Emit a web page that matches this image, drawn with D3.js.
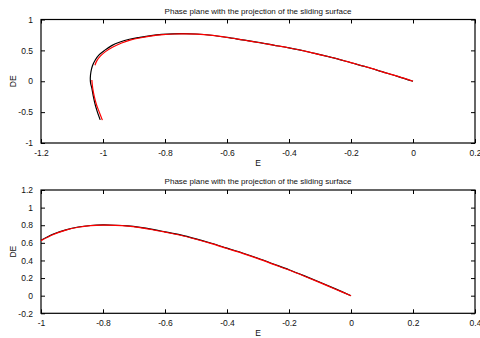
<!DOCTYPE html>
<html>
<head>
<meta charset="utf-8">
<script src="https://cdn.jsdelivr.net/npm/d3@7"></script>
<style>
  body { margin: 0; background: #fff; }
  svg { display: block; font-family: "Liberation Sans", Arial, sans-serif; }
  .tick text { fill: #111; }
</style>
</head>
<body>
<div id="viz"></div>
<script>
// top panel: black trajectory
const topBlackE = [-1.009, -1.018, -1.025, -1.031, -1.036, -1.04, -1.041, -1.039, -1.034, -1.025, -1.012, -0.995, -0.972, -0.945, -0.915, -0.881, -0.845, -0.81, -0.775, -0.74, -0.7, -0.65, -0.6, -0.55, -0.5, -0.45, -0.4, -0.35, -0.3, -0.25, -0.2, -0.15, -0.1, -0.05, 0];
const topBlackDE = [-0.626, -0.5, -0.383, -0.25, -0.113, -0.03, 0.05, 0.15, 0.25, 0.345, 0.43, 0.5, 0.577, 0.635, 0.68, 0.712, 0.74, 0.758, 0.768, 0.77, 0.765, 0.745, 0.71, 0.67, 0.63, 0.585, 0.54, 0.49, 0.43, 0.37, 0.30, 0.23, 0.155, 0.08, 0];

// top panel: red projection, two pieces
const topRedLowE = [-1.036, -1.033, -1.028, -1.021, -1.012, -1.002];
const topRedLowDE = [0.02, -0.12, -0.25, -0.38, -0.5, -0.63];
const topRedHighE = [-1.026, -1.02, -1.008, -0.992, -0.968, -0.94, -0.91, -0.877, -0.842, -0.806, -0.771, -0.736, -0.697, -0.648, -0.598, -0.548, -0.498, -0.448, -0.398, -0.348, -0.298, -0.248, -0.198, -0.148, -0.098, -0.048, 0];
const topRedHighDE = [0.26, 0.33, 0.41, 0.48, 0.555, 0.62, 0.67, 0.705, 0.735, 0.755, 0.765, 0.766, 0.762, 0.742, 0.708, 0.668, 0.628, 0.583, 0.538, 0.488, 0.428, 0.368, 0.298, 0.228, 0.153, 0.078, 0];

// bottom panel
const botE = [-1, -0.96, -0.92, -0.88, -0.84, -0.8, -0.76, -0.72, -0.68, -0.64, -0.6, -0.55, -0.5, -0.45, -0.4, -0.35, -0.3, -0.25, -0.2, -0.15, -0.1, -0.05, 0];
const botBlackDE = [0.63, 0.7, 0.748, 0.78, 0.797, 0.803, 0.8, 0.792, 0.775, 0.752, 0.725, 0.69, 0.645, 0.595, 0.54, 0.485, 0.425, 0.36, 0.295, 0.225, 0.152, 0.077, 0];
const botRedDE = [0.625, 0.695, 0.745, 0.777, 0.795, 0.801, 0.799, 0.79, 0.772, 0.749, 0.722, 0.686, 0.641, 0.591, 0.536, 0.481, 0.421, 0.356, 0.291, 0.221, 0.148, 0.073, 0];

const topXTicks = [-1.2, -1, -0.8, -0.6, -0.4, -0.2, 0, 0.2];
const topYTicks = [-1, -0.5, 0, 0.5, 1];
const botXTicks = [-1, -0.8, -0.6, -0.4, -0.2, 0, 0.2, 0.4];
const botYTicks = [-0.2, 0, 0.2, 0.4, 0.6, 0.8, 1, 1.2];

const title = "Phase plane with the projection of the sliding surface";

const svg = d3.select("#viz").append("svg")
    .attr("width", 480)
    .attr("height", 338);

const zip = (xs, ys) => xs.map((v, i) => [v, ys[i]]);

// draw one panel with box, inward ticks on all four sides
function panel(opts) {
    const x = d3.scaleLinear().domain(opts.xDomain).range([41, 475]);
    const y = d3.scaleLinear().domain(opts.yDomain).range([opts.bottom, opts.top]);
    const g = svg.append("g");
    const tl = 4;
    const fmt = d => String(d);

    // bottom axis
    g.append("g")
        .attr("transform", `translate(0,${opts.bottom})`)
        .call(d3.axisBottom(x).tickValues(opts.xTicks).tickSize(-tl).tickPadding(7).tickFormat(fmt))
        .call(a => a.select(".domain").remove());
    // top axis (ticks only)
    g.append("g")
        .attr("transform", `translate(0,${opts.top})`)
        .call(d3.axisTop(x).tickValues(opts.xTicks).tickSize(-tl).tickFormat(""))
        .call(a => a.select(".domain").remove());
    // left axis
    g.append("g")
        .attr("transform", `translate(41,0)`)
        .call(d3.axisLeft(y).tickValues(opts.yTicks).tickSize(-tl).tickPadding(8).tickFormat(fmt))
        .call(a => a.select(".domain").remove());
    // right axis (ticks only)
    g.append("g")
        .attr("transform", `translate(475,0)`)
        .call(d3.axisRight(y).tickValues(opts.yTicks).tickSize(-tl).tickFormat(""))
        .call(a => a.select(".domain").remove());

    g.selectAll(".tick text").attr("font-size", 8.5).attr("font-family", "Liberation Sans, Arial, sans-serif");

    // box
    g.append("rect")
        .attr("x", 41).attr("y", opts.top)
        .attr("width", 475 - 41).attr("height", opts.bottom - opts.top)
        .attr("fill", "none").attr("stroke", "#000").attr("stroke-width", 1.2);

    const line = d3.line().x(d => x(d[0])).y(d => y(d[1])).curve(d3.curveCatmullRom);
    opts.series.forEach(s => {
        g.append("path")
            .datum(s.data)
            .attr("d", line)
            .attr("fill", "none")
            .attr("stroke", s.color)
            .attr("stroke-width", 1.2);
    });

    // title and labels
    g.append("text")
        .attr("x", 258).attr("y", opts.top - 6)
        .attr("text-anchor", "middle").attr("font-size", 8).attr("fill", "#111")
        .text(title);
    g.append("text")
        .attr("x", 258).attr("y", opts.bottom + 23)
        .attr("text-anchor", "middle").attr("font-size", 8.5).attr("fill", "#111")
        .text("E");
    g.append("text")
        .attr("transform", `translate(16,${(opts.top + opts.bottom) / 2}) rotate(-90)`)
        .attr("text-anchor", "middle").attr("font-size", 8.5).attr("fill", "#111")
        .text("DE");
}

panel({
    xDomain: [-1.2, 0.2], yDomain: [-1, 1], top: 19.5, bottom: 143,
    xTicks: topXTicks, yTicks: topYTicks,
    series: [
        { data: zip(topBlackE, topBlackDE), color: "#000" },
        { data: zip(topRedLowE, topRedLowDE), color: "#f00" },
        { data: zip(topRedHighE, topRedHighDE), color: "#f00" }
    ]
});

panel({
    xDomain: [-1, 0.4], yDomain: [-0.2, 1.2], top: 190, bottom: 313.3,
    xTicks: botXTicks, yTicks: botYTicks,
    series: [
        { data: zip(botE, botBlackDE), color: "#000" },
        { data: zip(botE, botRedDE), color: "#f00" }
    ]
});
</script>
</body>
</html>
